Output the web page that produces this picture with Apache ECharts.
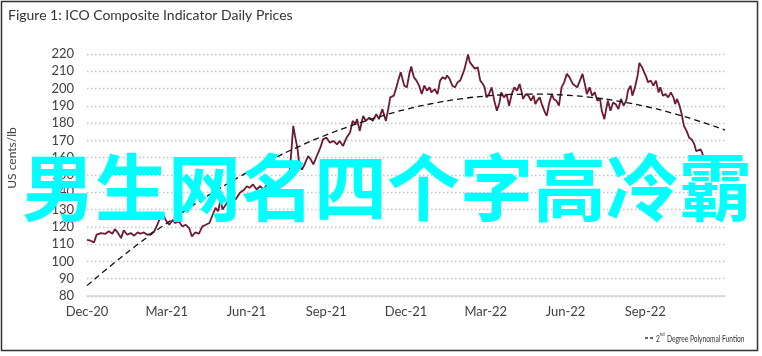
<!DOCTYPE html>
<html>
<head>
<meta charset="utf-8">
<script src="https://cdn.jsdelivr.net/npm/echarts@6/dist/echarts.min.js"></script>
<style>
html,body{margin:0;padding:0;background:#fff;}
#chart{width:762px;height:356px;}
</style>
</head>
<body>
<div id="chart"></div>
<script>
// x positions are days since 2020-12-01
var tickLabels = ["Dec-20","Mar-21","Jun-21","Sep-21","Dec-21","Mar-22","Jun-22","Sep-22",""];
var yTicks = [80, 220, 10];

var priceDays = [0,4,8,11,16,21,25,29,32,35,39,42,46,50,54,58,61,65,69,73,77,80,86,90,94,98,101,105,109,113,117,120,124,128,132,136,140,143,147,150,153,155,159,164,170,175,180,183,186,190,194,198,202,206,209,213,217,221,225,228,231,234,236,238,241,243,246,249,253,256,259,263,267,270,274,278,282,286,289,293,297,301,304,307,309,312,316,319,323,327,331,334,338,342,345,347,351,354,356,359,363,366,369,371,374,377,380,383,386,389,392,394,398,401,404,407,410,412,415,418,421,424,427,430,432,436,438,441,444,447,450,453,455,457,460,463,466,469,472,474,477,480,483,486,489,492,495,497,499,502,505,508,511,513,515,518,521,524,526,529,532,534,537,540,543,546,549,552,556,558,561,564,567,570,572,575,578,581,584,587,589,592,594,596,599,602,605,608,611,614,617,619,622,624,627,630,632,635,637,640,642,645,648,651,654,656,659,662,665,668,671,673,675,678,680,683,686,689,692,695,697,699,702,704,706,709];
var prices = [112.5,112,111,115.5,116.4,116,117.4,116,118.7,116.8,113.5,118,115.4,116.4,114.9,116.8,116,116.8,115.4,116,117.4,120.7,128,124,121.2,124,122.2,123.2,120.3,121.2,119.3,114.4,116.8,116,120.3,121.2,122.2,126,131,129,135.8,130,132.9,136.8,135.8,139.7,141.6,143.5,142.6,144.5,141.6,143.5,141.6,144.5,142.6,146.5,143.5,145.5,144.5,150.3,146.5,164.8,178.4,172.6,164.8,155.1,153.2,156.1,161,159,156.1,161,165.8,170.6,171.6,168.7,169.7,167.7,169.7,166.8,171.6,174.6,181.3,179.4,182.3,175.5,184.2,181.3,183.2,181.3,185.2,182.3,188.1,181.3,189,194.9,195.9,200.7,204.6,209.4,201.7,200.7,209,212.8,206.6,204.6,201.7,196.8,201.7,198.8,200.7,197.8,199.7,196.8,204.6,206.6,205.5,207.6,205.5,201.7,200.7,203.6,204.6,208.5,211.4,219.7,215.3,213.3,211.4,212.4,204.6,202.6,200.7,194.9,196.8,200.7,193,187.2,192,197.8,194.9,196.8,190.1,196.8,200.7,198.8,202.6,198.8,194,196.8,195.9,193,195.9,191,193,194.9,190.1,186.2,184.2,192,196.8,194,193,190.1,200.7,203.6,208.5,206.6,202.6,203.6,200.7,204.6,208.5,201.7,196.8,200.7,195.9,197.8,193,194,187.2,182.3,188.1,193,187.2,192,191,188.1,194,190.1,193,198.8,201.7,195.9,200.7,207.6,214.8,212.4,211.4,206.6,203.6,204.6,201.7,204.6,197.8,200.7,195.9,196.8,194.9,197.8,194.9,191,194,190.1,186.2,178.4,175.5,171.6,170.6,167.7,163.8,162.8,164.8,162.8,158.4,160];

var trendDays = [0,31,62,90,121,151,182,212,243,274,304,335,365,396,427,455,486,516,547,577,608,639,669,700,730];
var trendValues = [86,99.1,111.4,121.7,132.4,142,151.1,159.1,166.6,173.2,178.8,183.8,188,191.4,194,195.6,196.6,196.8,196.2,194.9,192.7,189.7,185.9,181.2,176];

var titleText = "Figure 1: ICO Composite Indicator Daily Prices";
var yAxisTitle = "US cents/lb";
var legendLabel = ["2", "nd", " Degree Polynomal Funtion"];
var overlayText = "男生网名四个字高冷霸";

var FONT = "Lato, 'Open Sans', sans-serif";
var chart = echarts.init(document.getElementById('chart'), null, {renderer:'canvas'});

function zip(a, b){ return a.map(function(v,i){ return [v, b[i]]; }); }

var option = {
  animation: false,
  backgroundColor: '#fff',
  grid: {left: 87, right: 37, top: 54, bottom: 60, containLabel: false},
  xAxis: {
    type: 'value', min: 0, max: 730, interval: 730/8,
    axisLine: {show: true, lineStyle: {color: '#d4d4d4', width: 1.5}},
    axisTick: {show: false},
    splitLine: {show: false},
    axisLabel: {
      color: '#404040', fontSize: 13, fontFamily: FONT, margin: 9,
      showMaxLabel: false,
      formatter: function(v){ return tickLabels[Math.round(v/(730/8))] || ''; }
    }
  },
  yAxis: {
    type: 'value', min: yTicks[0], max: yTicks[1], interval: yTicks[2],
    axisLine: {show: false}, axisTick: {show: false},
    axisLabel: {color: '#404040', fontSize: 13, fontFamily: FONT, margin: 13},
    splitLine: {show: true, lineStyle: {color: '#c4c4c4', width: 1.3, type: [1.5, 2.5]}}
  },
  series: [
    {
      type: 'line', data: zip(priceDays, prices), showSymbol: false, symbol: 'none',
      lineStyle: {color: '#6d1a30', width: 1.8}, z: 3
    },
    {
      type: 'line', data: zip(trendDays, trendValues), showSymbol: false, symbol: 'none',
      smooth: true,
      lineStyle: {color: '#111', width: 1.3, type: [6, 4]}, z: 4
    }
  ],
  graphic: [
    {type: 'rect', shape: {x: 1.5, y: 1.5, width: 756, height: 349},
     style: {fill: 'none', stroke: '#333', lineWidth: 1.5}, silent: true},
    {type: 'text', left: 8, top: 8,
     style: {text: titleText, fill: '#333', font: "14px " + FONT}},
    {type: 'text', x: 12, y: 158, rotation: Math.PI/2,
     style: {text: yAxisTitle, fill: '#404040', font: "12px " + FONT, align: 'center', verticalAlign: 'middle'}},
    {type: 'group', x: 645, y: 331, children: [
      {type: 'line', shape: {x1: 0, y1: 7, x2: 3, y2: 7}, style: {stroke: '#111', lineWidth: 1.3}},
      {type: 'line', shape: {x1: 5, y1: 7, x2: 8, y2: 7}, style: {stroke: '#111', lineWidth: 1.3}},
      {type: 'text', x: 11, y: 0, scaleX: 0.7, style: {
        text: '{a|' + legendLabel[0] + '}{s|' + legendLabel[1] + '}{a|' + legendLabel[2] + '}',
        rich: {
          a: {fontSize: 9.5, fontFamily: FONT, fill: '#333', color: '#333', verticalAlign: 'bottom', lineHeight: 13},
          s: {fontSize: 6, fontFamily: FONT, fill: '#333', color: '#333', verticalAlign: 'top', lineHeight: 13, padding: [0,1,5,0]}
        }
      }}
    ]},
    {type: 'text', x: 22, y: 187, z: 100,
     style: {text: overlayText, fill: '#00FFFF', font: "bold 73px 'Noto Sans CJK SC'", verticalAlign: 'middle'}}
  ]
};
chart.setOption(option);
</script>
</body>
</html>
